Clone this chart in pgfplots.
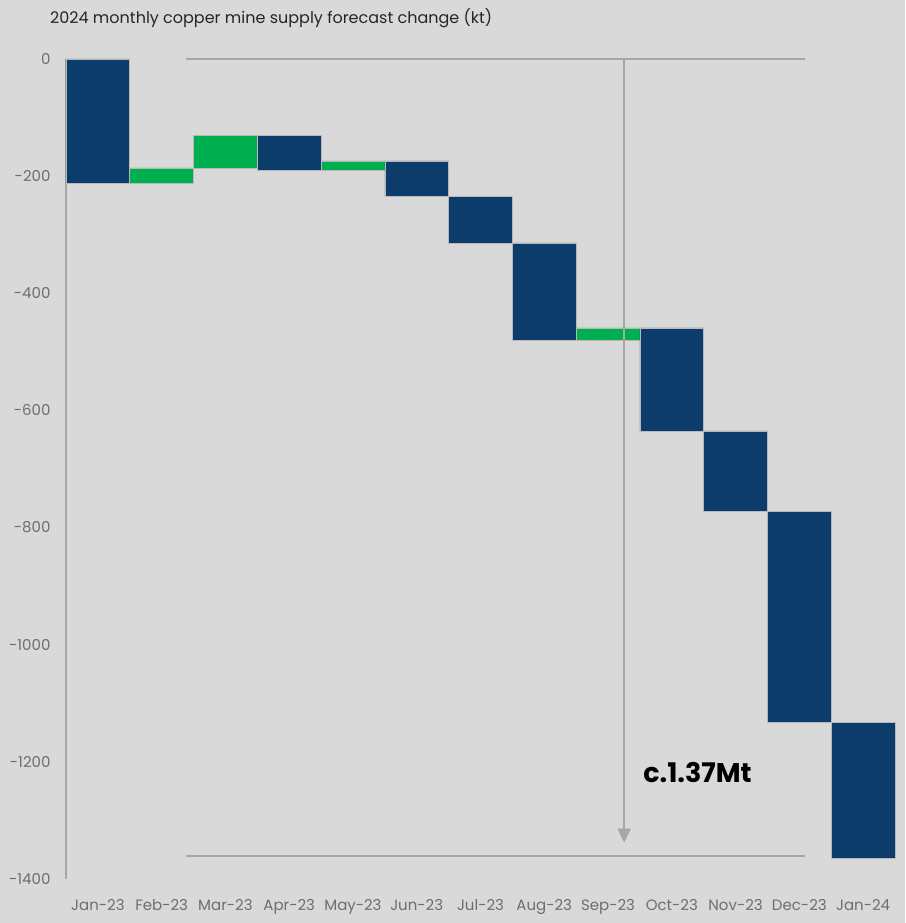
\documentclass[border=0pt]{standalone}
\usepackage{pgfplots}
\pgfplotsset{compat=1.18}
\usepackage{pgfplotstable}
\usepackage{fontspec}
\setmainfont{Poppins}
\usetikzlibrary{arrows.meta}
\definecolor{bg}{HTML}{D9D9D9}
\definecolor{navy}{HTML}{0C3C6B}
\definecolor{grn}{HTML}{00B050}
\definecolor{lgrey}{HTML}{A6A6A6}
\definecolor{tgrey}{HTML}{6E6E6E}
\definecolor{edge}{HTML}{B8B8B8}

\pgfplotstableread{
x base down up
0 0 -213 0
1 -186 0 -27
2 -131 0 -55
3 -131 -59 0
4 -174 0 -16
5 -174 -60 0
6 -234 -80 0
7 -314 -166 0
8 -459 0 -21
9 -459 -176 0
10 -635 -137 0
11 -772 -360 0
12 -1132 -232 0
}\wfdata

\begin{document}
\begin{tikzpicture}
\useasboundingbox (-66pt,-44pt) rectangle (839pt,879pt);
\fill[bg] (-66pt,-44pt) rectangle (839pt,879pt);
\node[anchor=base west, inner sep=0pt, text=black!85, font=\fontsize{16}{18}\selectfont] at (-16pt,855pt) {2024 monthly copper mine supply forecast change (kt)};
\begin{axis}[
  at={(0pt,0pt)}, anchor=south west,
  scale only axis, width=829pt, height=820pt,
  xmin=-0.5, xmax=12.5, ymin=-1400, ymax=0,
  clip=false,
  axis x line*=bottom, x axis line style={draw=none},
  axis y line*=left, y axis line style={lgrey, line width=1.5pt, -},
  major tick length=0pt,
  xtick={0,...,12},
  xticklabels={Jan-23,Feb-23,Mar-23,Apr-23,May-23,Jun-23,Jul-23,Aug-23,Sep-23,Oct-23,Nov-23,Dec-23,Jan-24},
  ytick={0,-200,-400,-600,-800,-1000,-1200,-1400},
  yticklabels={0,-200,-400,-600,-800,-1000,-1200,-1400},
  xticklabel style={text=tgrey, font=\fontsize{15}{17}\selectfont, yshift=-17pt},
  yticklabel style={text=tgrey, font=\fontsize{15}{17}\selectfont, anchor=east, xshift=-12pt},
  ybar stacked, bar width=1,
]
\draw[lgrey, line width=1.5pt] (axis cs:1.38,0) -- (axis cs:11.09,0);
\draw[lgrey, line width=1.5pt] (axis cs:1.38,-1361) -- (axis cs:11.09,-1361);
\draw[lgrey, line width=2pt, -{Triangle[width=13pt,length=14pt]}] (axis cs:8.253,0) -- (axis cs:8.253,-1338);
\addplot[draw=none, fill=none] table[x=x, y=base] {\wfdata};
\addplot[fill=navy, draw=edge, line width=0.6pt] table[x=x, y=down] {\wfdata};
\addplot[fill=grn, draw=edge, line width=0.6pt] table[x=x, y=up] {\wfdata};
\node[anchor=west, inner sep=0pt, font=\fontsize{27}{30}\selectfont\bfseries, text=black] at (axis cs:8.551,-1219) {c.1.37Mt};
\end{axis}
\end{tikzpicture}
\end{document}
